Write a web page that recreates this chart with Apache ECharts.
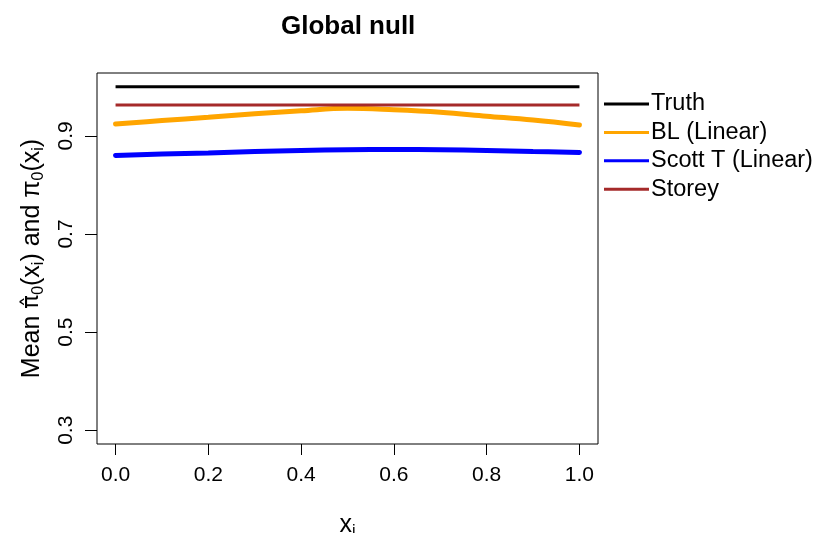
<!DOCTYPE html>
<html>
<head>
<meta charset="utf-8">
<script src="https://cdn.jsdelivr.net/npm/echarts@6/dist/echarts.min.js"></script>
<style>
  html, body { margin: 0; padding: 0; background: #fff; }
  #chart { width: 816px; height: 533px; }
</style>
</head>
<body>
<div id="chart"></div>
<script>
// data
var xs = [0, 0.1, 0.2, 0.3, 0.4, 0.5, 0.6, 0.7, 0.8, 0.9, 1.0];
var truth = [1.0, 1.0];
var storey = [0.963, 0.963];
var blLinear = [0.924, 0.931, 0.938, 0.945, 0.951, 0.956, 0.953, 0.948, 0.940, 0.932, 0.922];
var scottLinear = [0.860, 0.863, 0.865, 0.868, 0.870, 0.8715, 0.872, 0.8715, 0.870, 0.868, 0.866];
var xTicks = [0, 0.2, 0.4, 0.6, 0.8, 1.0];
var yTicks = [0.3, 0.5, 0.7, 0.9];

function pairs(x, y) {
  return y.map(function (v, i) { return [x[i], v]; });
}

var chart = echarts.init(document.getElementById('chart'));
var font = 'Liberation Sans, Arial, sans-serif';
var nameRich = {
  n: { fontFamily: font, fontSize: 25, color: '#000', lineHeight: 30 },
  h: { fontFamily: 'DejaVu Sans', fontSize: 23, color: '#000', lineHeight: 30 },
  s: { fontFamily: font, fontSize: 16, color: '#000', lineHeight: 16, verticalAlign: 'bottom' }
};

chart.setOption({
  animation: false,
  title: {
    text: 'Global null',
    left: 276, top: 9,
    textStyle: { fontFamily: font, fontWeight: 'bold', fontSize: 26, color: '#000' }
  },
  grid: {
    left: 97, right: 218, top: 73, bottom: 89,
    outerBoundsMode: 'none',
    show: true, borderColor: '#000', borderWidth: 1, backgroundColor: 'transparent'
  },
  legend: {
    orient: 'vertical',
    left: 599, top: 87,
    itemWidth: 45, itemHeight: 14, itemGap: 4.4,
    icon: 'path://M0,6 L45,6 L45,9 L0,9 Z',
    textStyle: { fontFamily: font, fontSize: 23.5, color: '#000', padding: [0, 0, 0, -3] },
    data: ['Truth', 'BL (Linear)', 'Scott T (Linear)', 'Storey']
  },
  xAxis: {
    type: 'value', min: -0.04, max: 1.04,
    name: '{n|x}{s|i}',
    nameLocation: 'middle', nameGap: 66,
    nameTextStyle: { rich: nameRich },
    axisLine: { show: false, onZero: false },
    splitLine: { show: false },
    axisTick: { length: 11, customValues: xTicks, lineStyle: { color: '#000' } },
    axisLabel: {
      customValues: xTicks, margin: 21,
      fontFamily: font, fontSize: 21, color: '#000',
      formatter: function (v) { return v.toFixed(1); }
    }
  },
  yAxis: {
    type: 'value', min: 0.272, max: 1.028,
    name: '{n|Mean }{h|π\u0302}{s|0}{n|(x}{s|i}{n|) and π}{s|0}{n|(x}{s|i}{n|)}',
    nameLocation: 'middle', nameGap: 50, nameRotate: 90,
    nameTextStyle: { rich: nameRich },
    axisLine: { show: false, onZero: false },
    splitLine: { show: false },
    axisTick: { length: 12, customValues: yTicks, lineStyle: { color: '#000' } },
    axisLabel: {
      customValues: yTicks, margin: 20, rotate: 90,
      fontFamily: font, fontSize: 21, color: '#000',
      formatter: function (v) { return v.toFixed(1); }
    }
  },
  series: [
    {
      name: 'Truth', type: 'line', showSymbol: false, symbol: 'none',
      data: pairs([0, 1], truth),
      lineStyle: { color: '#000000', width: 3 }, itemStyle: { color: '#000000' }
    },
    {
      name: 'BL (Linear)', type: 'line', showSymbol: false, symbol: 'none', smooth: 0.4,
      data: pairs(xs, blLinear),
      lineStyle: { color: '#FFA500', width: 5, cap: 'round' }, itemStyle: { color: '#FFA500' }
    },
    {
      name: 'Scott T (Linear)', type: 'line', showSymbol: false, symbol: 'none', smooth: 0.4,
      data: pairs(xs, scottLinear),
      lineStyle: { color: '#0000FF', width: 5, cap: 'round' }, itemStyle: { color: '#0000FF' }
    },
    {
      name: 'Storey', type: 'line', showSymbol: false, symbol: 'none',
      data: pairs([0, 1], storey),
      lineStyle: { color: '#A52A2A', width: 3 }, itemStyle: { color: '#A52A2A' }
    }
  ]
});
</script>
</body>
</html>
